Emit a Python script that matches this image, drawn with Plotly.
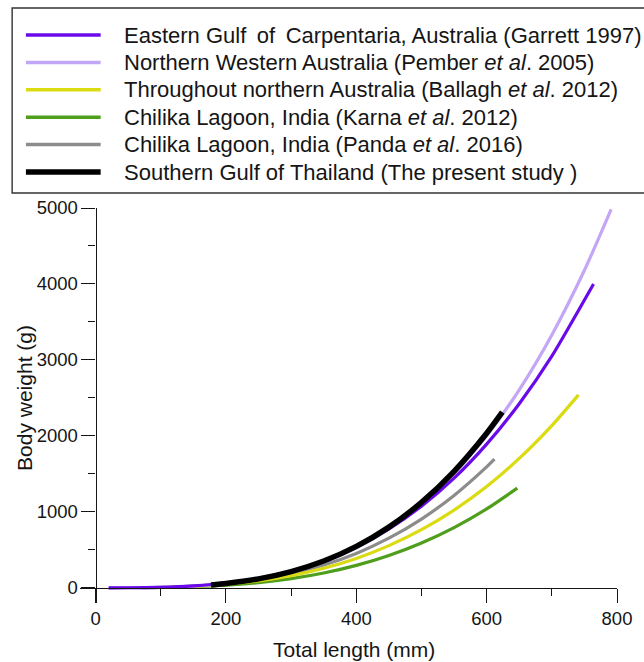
import plotly.graph_objects as go

# ---------------- data ----------------
names = [
    "Eastern Gulf \u2009of \u2009Carpentaria, Australia (Garrett 1997)",
    "Northern Western Australia (Pember <i>et al</i>. 2005)",
    "Throughout northern Australia (Ballagh <i>et al</i>. 2012)",
    "Chilika Lagoon, India (Karna <i>et al</i>. 2012)",
    "Chilika Lagoon, India (Panda <i>et al</i>. 2016)",
    "Southern Gulf of Thailand (The present study )",
]

garrett_len = [20, 50, 100, 150, 200, 250, 300, 350, 400, 450, 500, 550, 600, 650, 700, 764]
garrett_wt = [0.05, 0.9, 7, 26, 63, 125, 220, 356, 538, 775, 1075, 1444, 1892, 2424, 3050, 4000]

pember_len = [20, 50, 100, 150, 200, 250, 300, 350, 400, 450, 500, 550, 600, 650, 700, 750, 791]
pember_wt = [0.03, 0.5, 5.4, 21, 53, 111, 203, 338, 525, 775, 1097, 1502, 2002, 2607, 3329, 4180, 4983]

ballagh_len = [120, 150, 200, 250, 300, 350, 400, 450, 500, 550, 600, 650, 700, 741]
ballagh_wt = [10, 19, 47, 92, 161, 258, 387, 555, 765, 1023, 1334, 1703, 2135, 2540]

karna_len = [130, 150, 200, 250, 300, 350, 400, 450, 500, 550, 600, 647]
karna_wt = [9, 14, 34, 69, 121, 195, 295, 426, 590, 793, 1038, 1312]

panda_len = [70, 100, 150, 200, 250, 300, 350, 400, 450, 500, 550, 600, 612]
panda_wt = [2, 6, 22, 53, 105, 186, 300, 453, 653, 905, 1216, 1592, 1693]

present_len = [177, 200, 250, 300, 350, 400, 450, 500, 550, 600, 624]
present_wt = [38, 57, 118, 214, 353, 545, 799, 1125, 1534, 2035, 2312]

x_ticks = [0, 200, 400, 600, 800]
x_minor = [100, 300, 500, 700]
y_ticks = [0, 1000, 2000, 3000, 4000, 5000]
y_minor = [500, 1500, 2500, 3500, 4500]

series_len = [garrett_len, pember_len, ballagh_len, karna_len, panda_len, present_len]
series_wt = [garrett_wt, pember_wt, ballagh_wt, karna_wt, panda_wt, present_wt]

# ---------------- styles ----------------
colors = ["#6a0aeb", "#c3a6f5", "#dbdb12", "#4f9e1c", "#8c8c8c", "#000000"]
widths = [3.2, 3.2, 3.2, 3.2, 3.2, 5.5]
order = [4, 3, 2, 1, 0, 5]  # black on top

FONT = "Liberation Sans, Arial, sans-serif"
TXT = "#151515"
W, H = 644, 662
ML, MR, MT, MB = 80, 18, 208, 59
PW, PH = W - ML - MR, H - MT - MB
XR = [-24, 800]
YR = [-200, 5000]


def px_x(px):
    return (px - ML) / PW


def px_y(py):
    return (H - MB - py) / PH


fig = go.Figure()
for i in order:
    fig.add_trace(go.Scatter(
        x=series_len[i], y=series_wt[i], mode="lines",
        line=dict(color=colors[i], width=widths[i], shape="spline", smoothing=0.6),
        name=names[i], showlegend=False, hoverinfo="skip",
    ))

shapes = []
annotations = []

# custom legend (box + line samples + labels)
shapes.append(dict(type="rect", xref="paper", yref="paper",
                   x0=px_x(11), x1=px_x(700), y0=px_y(193), y1=px_y(8),
                   line=dict(color="#333333", width=1.4), fillcolor="rgba(0,0,0,0)", layer="above"))
row0, dy = 35, 27.4
for i, name in enumerate(names):
    yy = px_y(row0 + i * dy)
    shapes.append(dict(type="line", xref="paper", yref="paper",
                       x0=px_x(25), x1=px_x(101), y0=yy, y1=yy,
                       line=dict(color=colors[i], width=widths[i] + (0 if i == 5 else 0.3))))
    annotations.append(dict(xref="paper", yref="paper", x=px_x(123), y=yy,
                            xanchor="left", yanchor="middle", showarrow=False,
                            text=name, font=dict(family=FONT, size=22, color=TXT)))

# axis titles
annotations.append(dict(xref="paper", yref="paper", x=px_x(359), y=px_y(649),
                        xanchor="center", yanchor="middle", showarrow=False,
                        text="Total length (mm)", font=dict(family=FONT, size=21, color=TXT)))
annotations.append(dict(xref="paper", yref="paper", x=px_x(23), y=px_y(398),
                        xanchor="center", yanchor="middle", showarrow=False, textangle=-90,
                        text="Body weight (g)", font=dict(family=FONT, size=21, color=TXT)))

axis_common = dict(showgrid=False, zeroline=False, showline=True, linecolor="#151515", linewidth=1.3,
                   ticks="outside", ticklen=14, tickwidth=1.3, tickcolor="#151515",
                   tickfont=dict(family=FONT, size=18.5, color=TXT), fixedrange=True)

fig.update_layout(
    width=W, height=H,
    margin=dict(l=ML, r=MR, t=MT, b=MB, pad=0),
    paper_bgcolor="white", plot_bgcolor="white",
    showlegend=False,
    shapes=shapes, annotations=annotations,
    xaxis=dict(range=XR, tickvals=x_ticks, anchor="free",
               position=(0 - YR[0]) / (YR[1] - YR[0]),
               minor=dict(tickvals=x_minor, ticks="outside", ticklen=7,
                          tickwidth=1.3, tickcolor="#151515"),
               **axis_common),
    yaxis=dict(range=YR, tickvals=y_ticks, tickformat="d", anchor="free",
               position=(0 - XR[0]) / (XR[1] - XR[0]),
               minor=dict(tickvals=y_minor, ticks="outside", ticklen=7,
                          tickwidth=1.3, tickcolor="#151515"),
               **axis_common),
)

fig.write_html("out.html")
